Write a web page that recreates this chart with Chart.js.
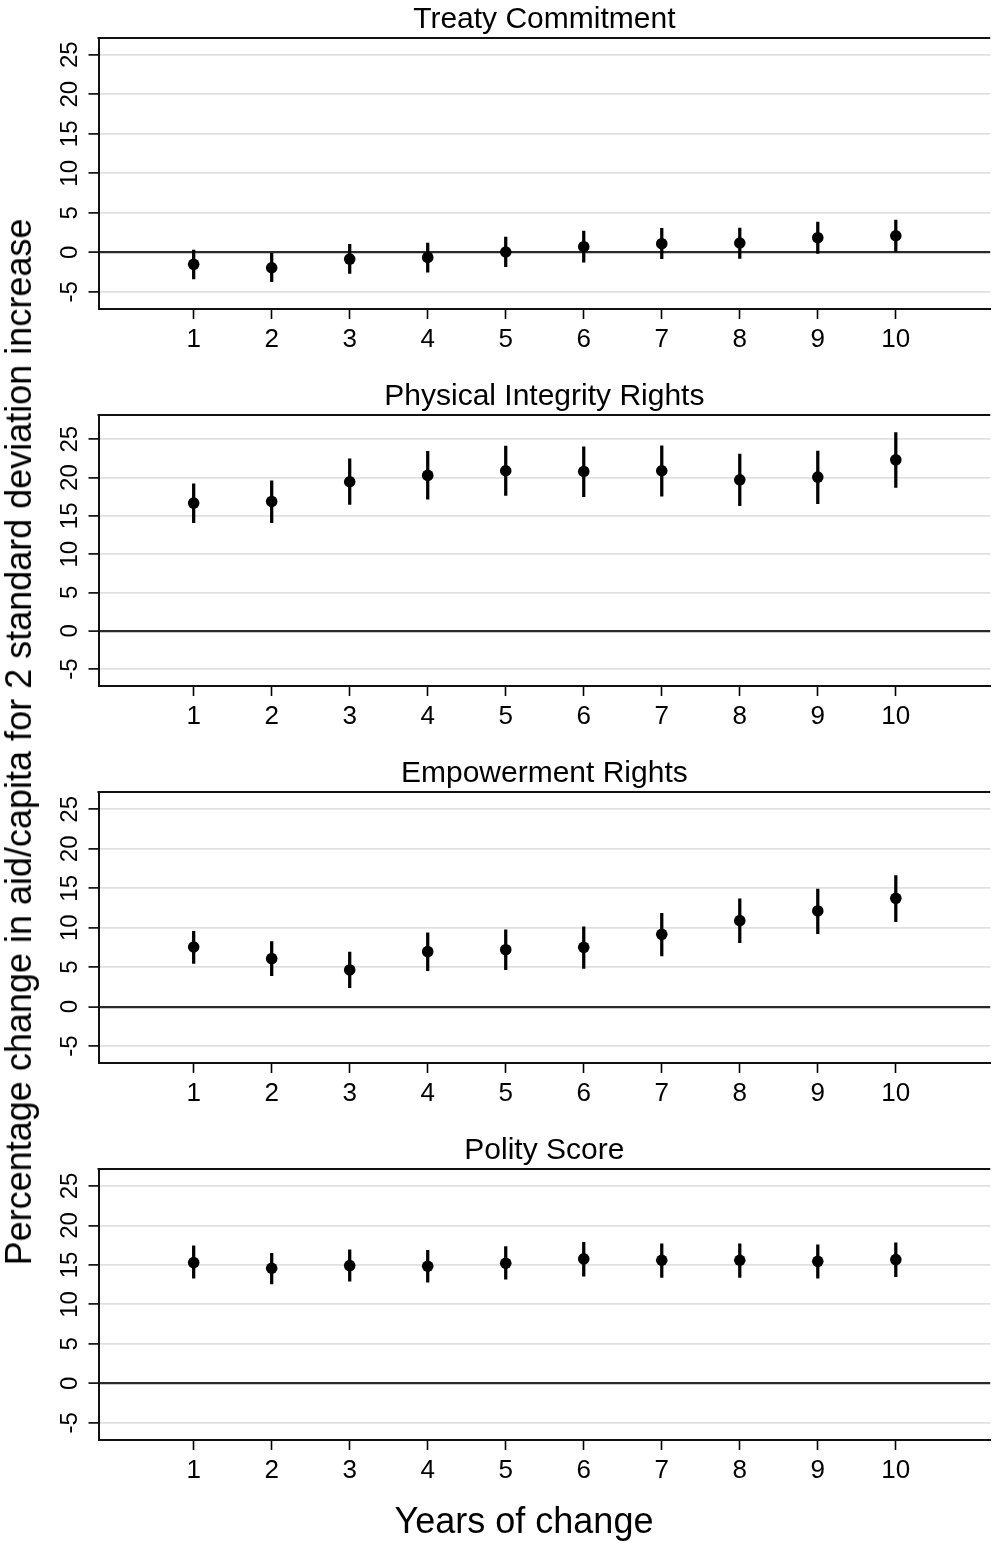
<!DOCTYPE html>
<html>
<head>
<meta charset="utf-8">
<script src="https://cdn.jsdelivr.net/npm/chart.js@4/dist/chart.umd.min.js"></script>
<style>
  html, body { margin: 0; padding: 0; background: #fff; }
  #wrap { position: relative; width: 996px; height: 1543px; overflow: hidden; font-family: "Liberation Sans", Arial, sans-serif; }
  .panel { position: absolute; left: 0; width: 996px; height: 377px; }
  .panel canvas { display: block; }
  #ytitle { position: absolute; left: 19px; top: 742px; transform: translate(-50%, -50%) rotate(-90deg); white-space: nowrap; font-size: 36px; line-height: 36px; color: #000; }
  #xtitle { position: absolute; left: 524px; top: 1503px; transform: translateX(-50%); white-space: nowrap; font-size: 36px; line-height: 36px; color: #000; }
</style>
</head>
<body>
<div id="wrap">
  <div class="panel" style="top:0px"><canvas id="c0" width="996" height="377"></canvas></div>
  <div class="panel" style="top:377px"><canvas id="c1" width="996" height="377"></canvas></div>
  <div class="panel" style="top:754px"><canvas id="c2" width="996" height="377"></canvas></div>
  <div class="panel" style="top:1131px"><canvas id="c3" width="996" height="377"></canvas></div>
  <div id="ytitle">Percentage change in aid/capita for 2 standard deviation increase</div>
  <div id="xtitle">Years of change</div>
</div>
<script>
// ---- data ----
const years = [1, 2, 3, 4, 5, 6, 7, 8, 9, 10];
const yTickValues = [-5, 0, 5, 10, 15, 20, 25];
const panelTitles = ["Treaty Commitment", "Physical Integrity Rights", "Empowerment Rights", "Polity Score"];

const treatyEst = [-1.52, -1.95, -0.85, -0.64, 0.04, 0.71, 1.09, 1.18, 1.85, 2.10];
const treatyLo  = [-3.35, -3.72, -2.66, -2.50, -1.82, -1.23, -0.81, -0.76, -0.13, 0.08];
const treatyHi  = [0.29, -0.13, 1.01, 1.18, 1.94, 2.70, 3.04, 3.08, 3.84, 4.09];

const physEst = [16.67, 16.88, 19.45, 20.28, 20.89, 20.80, 20.89, 19.71, 20.06, 22.32];
const physLo  = [14.10, 14.10, 16.49, 17.19, 17.67, 17.49, 17.58, 16.32, 16.58, 18.71];
const physHi  = [19.19, 19.58, 22.45, 23.41, 24.11, 24.02, 24.15, 23.06, 23.46, 25.89];

const empEst = [7.56, 6.08, 4.65, 6.97, 7.22, 7.52, 9.17, 10.90, 12.13, 13.73];
const empLo  = [5.49, 3.93, 2.41, 4.56, 4.69, 4.86, 6.42, 8.11, 9.25, 10.77];
const empHi  = [9.55, 8.24, 6.93, 9.34, 9.72, 10.10, 11.83, 13.65, 14.91, 16.60];

const polEst = [15.29, 14.58, 14.91, 14.83, 15.21, 15.76, 15.59, 15.59, 15.46, 15.67];
const polLo  = [13.31, 12.59, 12.93, 12.80, 13.18, 13.56, 13.43, 13.43, 13.31, 13.52];
const polHi  = [17.41, 16.48, 16.90, 16.86, 17.32, 17.87, 17.66, 17.66, 17.53, 17.79];

const yMins = [-7.17, -7.22, -7.14, -7.18];
const yMaxs = [27.12, 28.17, 27.20, 27.15];
const xMin = -0.22, xMax = 11.21;

const estimates = [treatyEst, physEst, empEst, polEst];
const lows = [treatyLo, physLo, empLo, polLo];
const highs = [treatyHi, physHi, empHi, polHi];

// ---- rendering ----
const FONT = '"Liberation Sans", Arial, Helvetica, sans-serif';
Chart.defaults.font.family = FONT;
Chart.defaults.color = '#000';

const topBorder = {
  id: 'topBorder',
  afterDraw(chart) {
    const a = chart.chartArea, ctx = chart.ctx;
    ctx.save();
    ctx.strokeStyle = '#111';
    ctx.lineWidth = 2;
    ctx.beginPath();
    ctx.moveTo(a.left - 1, a.top);
    ctx.lineTo(a.right, a.top);
    ctx.stroke();
    ctx.restore();
  }
};

for (let p = 0; p < 4; p++) {
  const est = estimates[p], lo = lows[p], hi = highs[p];
  new Chart(document.getElementById('c' + p), {
    type: 'scatter',
    data: {
      datasets: [
        {
          type: 'bar',
          data: years.map((x, i) => ({ x: x, y: [lo[i], hi[i]] })),
          backgroundColor: '#000',
          borderWidth: 0,
          barThickness: 2.6,
          order: 2
        },
        {
          type: 'scatter',
          data: years.map((x, i) => ({ x: x, y: est[i] })),
          backgroundColor: '#000',
          borderWidth: 0,
          pointRadius: 5.8,
          pointHoverRadius: 5.8,
          order: 1
        }
      ]
    },
    options: {
      responsive: false,
      animation: false,
      devicePixelRatio: 1,
      layout: { padding: 0 },
      plugins: {
        legend: { display: false },
        tooltip: { enabled: false },
        title: {
          display: true,
          text: panelTitles[p],
          fullSize: false,
          color: '#000',
          font: { size: 30, weight: 'normal', family: FONT, lineHeight: 1 },
          padding: { top: 5, bottom: 3 }
        }
      },
      scales: {
        x: {
          type: 'linear',
          min: xMin,
          max: xMax,
          offset: false,
          afterBuildTicks: (s) => { s.ticks = years.map(v => ({ value: v })); },
          afterFit: (s) => { s.height = 68; },
          grid: { display: true, offset: false, drawOnChartArea: false, drawTicks: true, tickLength: 10, tickColor: '#000', tickWidth: 1.6 },
          border: { display: true, color: '#111', width: 2 },
          ticks: { color: '#000', font: { size: 26, family: FONT }, padding: 5, maxRotation: 0, autoSkip: false }
        },
        y: {
          type: 'linear',
          min: yMins[p],
          max: yMaxs[p],
          afterBuildTicks: (s) => { s.ticks = yTickValues.map(v => ({ value: v })); },
          afterFit: (s) => { s.width = 98.5; },
          grid: {
            display: true,
            drawOnChartArea: true,
            drawTicks: true,
            tickLength: 10,
            tickColor: '#000',
            tickWidth: 1.6,
            color: (c) => (c.tick && c.tick.value === 0) ? '#2a2a2a' : '#e0e0e0',
            lineWidth: (c) => (c.tick && c.tick.value === 0) ? 2.2 : 1.8
          },
          border: { display: true, color: '#111', width: 2 },
          ticks: { color: '#000', font: { size: 24, family: FONT }, padding: 5, minRotation: 90, maxRotation: 90, crossAlign: 'center', autoSkip: false }
        }
      }
    },
    plugins: [topBorder]
  });
}
</script>
</body>
</html>
